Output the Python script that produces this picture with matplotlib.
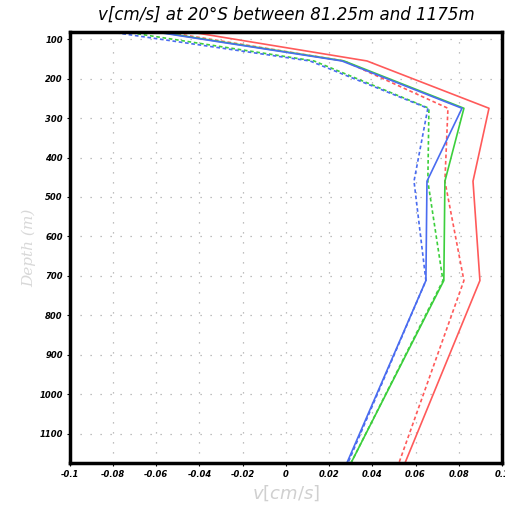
import numpy as np
import matplotlib
matplotlib.use("Agg")
import matplotlib.pyplot as plt

# Depth levels (m) and velocity profiles (cm/s)
depth = [81.25, 155, 275, 460, 712, 1175]

red_solid = [-0.0444, 0.0375, 0.0940, 0.0866, 0.0898, 0.0551]
red_dash = [-0.0560, 0.0269, 0.0750, 0.0736, 0.0824, 0.0523]
blue_solid = [-0.0606, 0.0259, 0.0815, 0.0653, 0.0648, 0.0282]
green_solid = [-0.0593, 0.0269, 0.0824, 0.0736, 0.0731, 0.0301]
green_dash = [-0.0745, 0.0130, 0.0662, 0.0657, 0.0727, 0.0301]
blue_dash = [-0.0815, 0.0111, 0.0657, 0.0593, 0.0648, 0.0287]

xticks = [-0.1, -0.08, -0.06, -0.04, -0.02, 0, 0.02, 0.04, 0.06, 0.08, 0.1]
xticklabels = ["-0.1", "-0.08", "-0.06", "-0.04", "-0.02", "0",
               "0.02", "0.04", "0.06", "0.08", "0.1"]
yticks = [100, 200, 300, 400, 500, 600, 700, 800, 900, 1000, 1100]

fig = plt.figure(figsize=(5.06, 5.14), dpi=100)
ax = fig.add_axes([0.138, 0.099, 0.854, 0.839])

red = "#ff5a5a"
green = "#3ccf3c"
blue = "#4a6cf0"
dash = (0, (2.2, 1.6))

ax.plot(red_solid, depth, color=red, lw=1.2)
ax.plot(red_dash, depth, color=red, lw=1.2, ls=dash)
ax.plot(green_solid, depth, color=green, lw=1.2)
ax.plot(green_dash, depth, color=green, lw=1.2, ls=dash)
ax.plot(blue_solid, depth, color=blue, lw=1.2)
ax.plot(blue_dash, depth, color=blue, lw=1.2, ls=dash)

ax.set_xlim(-0.1, 0.1)
ax.set_ylim(1175, 81.25)

ax.set_xticks(xticks)
ax.set_xticklabels(xticklabels, fontsize=6, fontstyle="italic", fontweight="bold")
ax.set_yticks(yticks)
ax.set_yticklabels([str(t) for t in yticks], fontsize=6, fontstyle="italic", fontweight="bold")
ax.tick_params(axis="both", length=2, width=0.8, pad=3)

# dotted grid like the original
ax.grid(True, color="#aaaaaa", lw=0.9, ls=(0, (1, 7)))

for s in ax.spines.values():
    s.set_linewidth(2.5)

ax.set_title("v[cm/s] at 20°S between 81.25m and 1175m",
             fontsize=12, fontstyle="italic", pad=9)
ax.set_xlabel(r"$v[cm/s]$", fontsize=13, color="#d0d0d0", labelpad=3)
ax.set_ylabel("Depth (m)", fontsize=11, color="#d8d8d8", fontstyle="italic",
              family="DejaVu Serif", labelpad=2)

plt.savefig("out.png", dpi=100)
